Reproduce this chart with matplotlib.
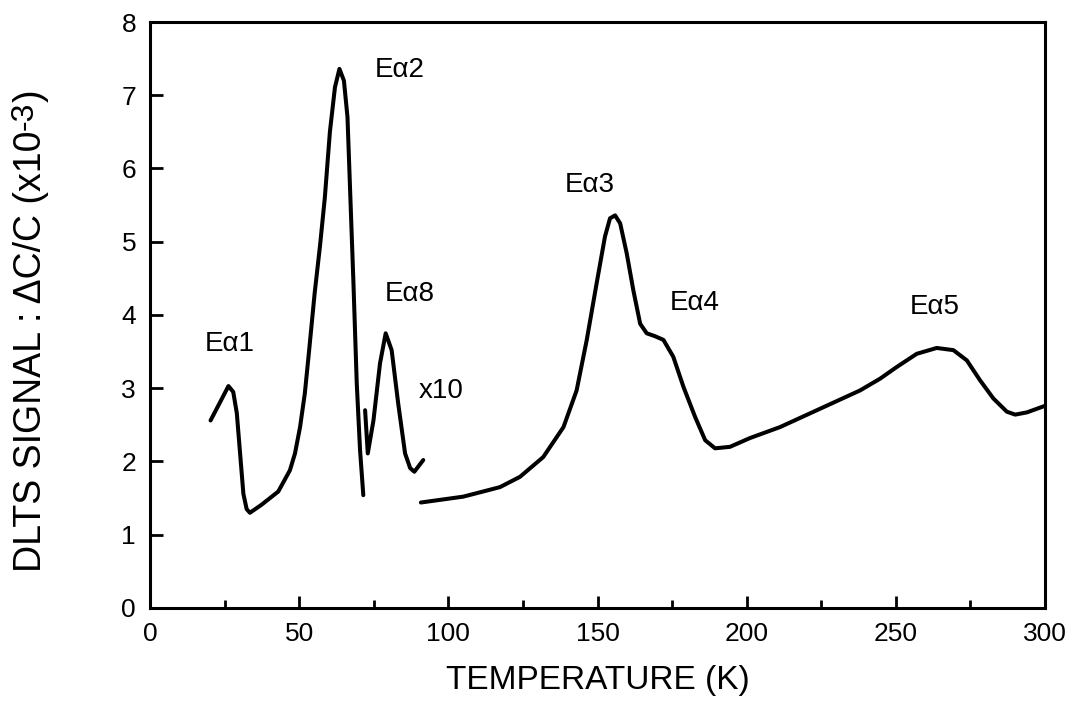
import matplotlib.pyplot as plt

plt.rcParams['font.family'] = ['Liberation Sans', 'DejaVu Sans']

# Ea1 / Ea2 segment
t1 = [20.3, 23.5, 26.3, 27.9, 29.1, 30.2, 31.3, 32.4, 33.5, 37.4, 43.0, 46.9, 48.6,
      50.3, 51.9, 53.3, 55.2, 57.0, 58.6, 60.3, 62.0, 63.5, 65.0, 66.2, 67.0, 68.2,
      69.3, 70.4, 71.5]
s1 = [2.56, 2.81, 3.03, 2.95, 2.66, 2.11, 1.56, 1.35, 1.30, 1.41, 1.59, 1.88, 2.11,
      2.47, 2.93, 3.50, 4.30, 4.95, 5.60, 6.50, 7.11, 7.36, 7.20, 6.70, 5.79, 4.43,
      3.07, 2.16, 1.54]

# x10 segment (Ea8)
t2 = [72.1, 73.0, 74.9, 77.1, 79.0, 81.0, 83.2, 85.5, 87.2, 88.6, 91.6]
s2 = [2.70, 2.11, 2.56, 3.34, 3.75, 3.52, 2.79, 2.11, 1.91, 1.86, 2.02]

# Ea3 - Ea5 segment
t3 = [90.8, 105.0, 117.3, 124.0, 131.8, 138.6, 143.0, 146.4, 149.7, 152.5, 154.2,
      155.9, 157.6, 159.8, 162.0, 164.3, 166.5, 169.3, 172.1, 175.4, 178.8, 182.7,
      186.1, 189.4, 194.4, 201.1, 211.2, 224.6, 238.0, 244.7, 250.3, 257.0, 263.7,
      269.3, 273.8, 278.2, 282.7, 287.2, 290.0, 293.9, 300.0]
s3 = [1.44, 1.52, 1.65, 1.79, 2.06, 2.47, 2.97, 3.66, 4.43, 5.07, 5.32,
      5.36, 5.25, 4.84, 4.34, 3.88, 3.75, 3.71, 3.66, 3.43, 3.02, 2.61,
      2.29, 2.18, 2.20, 2.32, 2.47, 2.72, 2.97, 3.13, 3.29, 3.47, 3.55,
      3.52, 3.38, 3.11, 2.86, 2.68, 2.64, 2.67, 2.76]

peak_labels = ['E\u03b11', 'E\u03b12', 'E\u03b18', 'x10', 'E\u03b13', 'E\u03b14', 'E\u03b15']
label_x = [26.8, 83.8, 87.2, 97.6, 147.5, 182.7, 263.2]
label_y = [3.6, 7.35, 4.28, 2.96, 5.77, 4.17, 4.11]

fig = plt.figure(figsize=(10.76, 7.19), dpi=100)
ax = fig.add_axes([0.1394, 0.1544, 0.8318, 0.815])

for t, s in [(t1, s1), (t2, s2), (t3, s3)]:
    ax.plot(t, s, color='black', lw=2.9, solid_capstyle='round', solid_joinstyle='round')

for lab, x, y in zip(peak_labels, label_x, label_y):
    ax.text(x, y, lab, fontsize=20, ha='center', va='center')

ax.set_xlim(0, 300)
ax.set_ylim(0, 8)
ax.set_xticks(range(0, 301, 50))
ax.set_xticks(range(25, 300, 50), minor=True)
ax.set_yticks(range(0, 9))
ax.tick_params(axis='both', which='major', direction='in', length=9, width=2,
               labelsize=19, pad=10)
ax.tick_params(axis='x', which='minor', direction='in', length=6, width=2)
for sp in ax.spines.values():
    sp.set_linewidth(2.2)

ax.set_xlabel('TEMPERATURE (K)', fontsize=24, labelpad=14)

# y label built from pieces so the "-3" exponent keeps a near full size
ylab = fig.text(0.029, 0.2045, 'DLTS SIGNAL : \u0394C/C (x10', rotation=90,
                fontsize=27, ha='center', va='bottom')
ysup = ax.annotate('-3', xy=(1, 1), xycoords=ylab, xytext=(-7, 0),
                   textcoords='offset points', rotation=90, fontsize=23,
                   ha='right', va='bottom', annotation_clip=False)
ax.annotate(')', xy=(1, 1), xycoords=(ylab, ysup), rotation=90, fontsize=27,
            ha='right', va='bottom', annotation_clip=False)

fig.savefig('out.png', dpi=100)
